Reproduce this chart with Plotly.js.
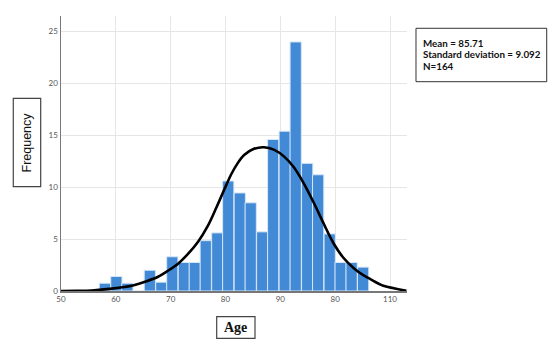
<!DOCTYPE html>
<html>
<head>
<meta charset="utf-8">
<script src="https://cdn.plot.ly/plotly-3.0.1.min.js"></script>
<style>html,body{margin:0;padding:0;background:#fff;}#chart{width:550px;height:350px;}</style>
</head>
<body>
<div id="chart"></div>
<script>
// Histogram bins (age centres) and frequencies
const ageBins = [58.0, 60.1, 62.1, 64.2, 66.2, 68.3, 70.3, 72.4, 74.4, 76.4, 78.5, 80.5,
                 82.6, 84.6, 86.7, 88.7, 90.8, 92.8, 94.9, 96.9, 99.0, 101.0, 103.0, 105.1];
const frequency = [0.75, 1.4, 0.75, 0, 2.0, 0.85, 3.3, 2.75, 2.75, 4.85, 5.6, 10.6,
                   9.45, 8.5, 5.7, 14.6, 15.4, 24, 12.3, 11.2, 5.5, 2.75, 2.75, 2.3];
// Normal curve points
const curveX = [50.0, 52.9, 55.6, 59.3, 62.9, 65.6, 67.7, 69.5, 71.4, 73.2, 75.0, 76.8, 78.3,
                79.8, 81.0, 82.2, 83.4, 85.2, 87.0, 88.9, 90.7, 92.5, 94.3, 96.1, 97.9,
                99.7, 101.5, 103.4, 105.2, 106.4, 108.8, 113.0];
const curveY = [0.0, 0.01, 0.05, 0.23, 0.51, 0.94, 1.37, 1.95, 2.66, 3.6, 4.75, 6.3, 8.0,
                9.8, 11.2, 12.3, 13.1, 13.7, 13.85, 13.6, 12.95, 11.9, 10.35, 8.5, 6.5,
                4.6, 3.2, 2.2, 1.5, 1.15, 0.5, 0.03];
const xTickVals = [50, 60, 70, 80, 90, 100, 110];
const xTickText = ["50", "60", "70", "80", "90", "80", "110"];
const yTickVals = [0, 5, 10, 15, 20, 25];
const statsText = ["Mean = 85.71", "Standard deviation = 9.092", "N=164"];
const binWidth = 2.05;

const traces = [
  {
    type: 'bar', x: ageBins, y: frequency, width: binWidth,
    marker: {color: '#428ad6', line: {color: '#d6e6f7', width: 1}},
    hoverinfo: 'x+y'
  },
  {
    type: 'scatter', mode: 'lines', x: curveX, y: curveY,
    line: {color: '#000', width: 2.6, shape: 'spline', smoothing: 0.8},
    hoverinfo: 'skip'
  }
];

const boxLine = {color: '#444', width: 1.2};
const statsY = [0.9007, 0.8607, 0.8193];

const layout = {
  width: 550, height: 350,
  margin: {l: 61, r: 143, t: 16, b: 59},
  paper_bgcolor: '#fff', plot_bgcolor: '#fff',
  showlegend: false,
  bargap: 0,
  font: {family: 'Lato, "Liberation Sans", sans-serif', color: '#555'},
  xaxis: {
    range: [50, 113.1], tickvals: xTickVals, ticktext: xTickText,
    showgrid: true, gridcolor: '#e6e6e6', gridwidth: 1,
    showline: true, linecolor: '#777', linewidth: 1.5,
    zeroline: false, ticks: '', tickfont: {size: 8, color: '#555'}
  },
  yaxis: {
    range: [0, 26.5], tickvals: yTickVals,
    showgrid: true, gridcolor: '#e6e6e6', gridwidth: 1,
    showline: true, linecolor: '#777', linewidth: 1.5,
    zeroline: false, ticks: '', tickfont: {size: 8, color: '#555'}
  },
  shapes: [
    {type: 'rect', xref: 'paper', yref: 'paper', x0: -0.1379, x1: -0.0587, y0: 0.3793, y1: 0.7007, line: boxLine},
    {type: 'rect', xref: 'paper', yref: 'paper', x0: 0.45, x1: 0.5607, y0: -0.172, y1: -0.0935, line: boxLine},
    {type: 'rect', xref: 'paper', yref: 'paper', x0: 1.026, x1: 1.4038, y0: 0.7611, y1: 0.9553, line: {color: '#333', width: 1}}
  ],
  annotations: [
    {
      xref: 'paper', yref: 'paper', x: -0.0983, y: 0.54,
      xanchor: 'center', yanchor: 'middle', showarrow: false,
      text: 'Frequency', textangle: -90,
      font: {family: '"Liberation Sans", Arial, sans-serif', size: 12.5, color: '#111'}
    },
    {
      xref: 'paper', yref: 'paper', x: 0.5052, y: -0.1327,
      xanchor: 'center', yanchor: 'middle', showarrow: false,
      text: '<b>Age</b>',
      font: {family: '"Liberation Serif", "DejaVu Serif", serif', size: 14, color: '#111'}
    }
  ].concat(statsText.map((s, i) => ({
      xref: 'paper', yref: 'paper', x: 1.0442, y: statsY[i],
      xanchor: 'left', yanchor: 'middle', showarrow: false, borderpad: 0,
      text: '<b>' + s + '</b>',
      font: {family: 'Lato, "Liberation Sans", sans-serif', size: 9.8, color: '#111'}
  })))
};

Plotly.newPlot('chart', traces, layout, {displayModeBar: false, staticPlot: true});
</script>
</body>
</html>
